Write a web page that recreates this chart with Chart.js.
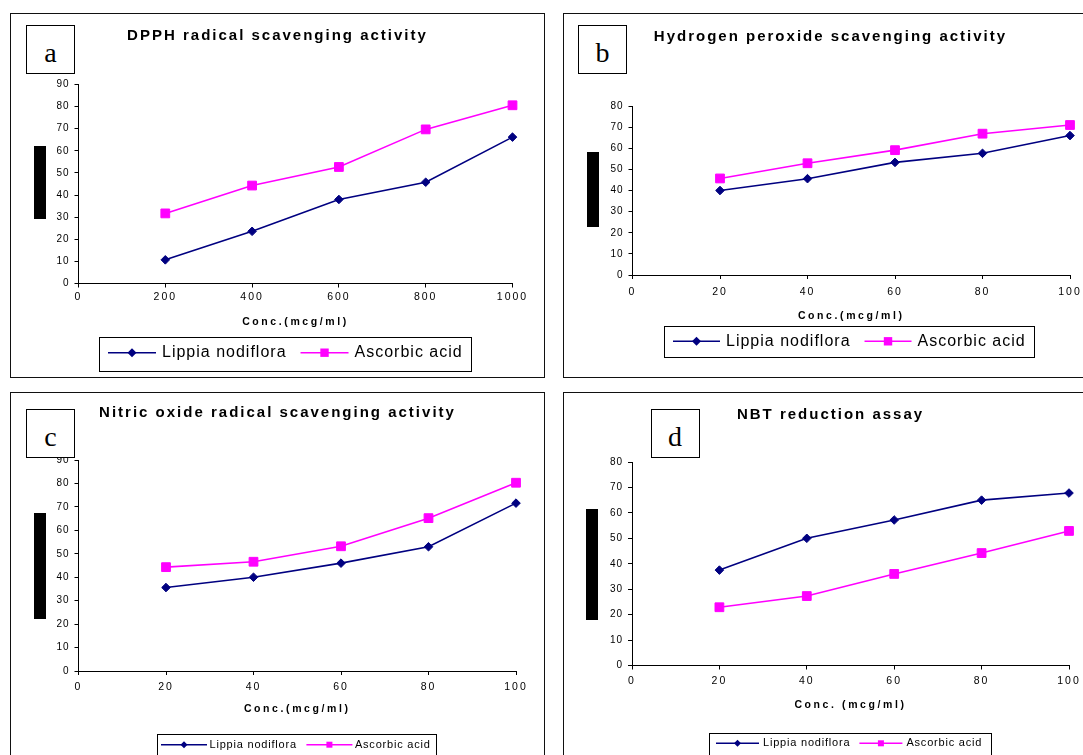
<!DOCTYPE html>
<html>
<head>
<meta charset="utf-8">
<title>Radical scavenging activity of Lippia nodiflora</title>
<script src="https://cdn.jsdelivr.net/npm/chart.js@4/dist/chart.umd.min.js"></script>
<style>
  html, body { margin: 0; padding: 0; background: #fff; }
  body { position: relative; width: 1083px; height: 755px; overflow: hidden;
         font-family: "Liberation Sans", Arial, sans-serif; color: #000; }
  .panel { position: absolute; box-sizing: border-box; border: 1px solid #111; background: #fff; }
  canvas { position: absolute; }
  .title { position: absolute; text-align: center; font-weight: bold; font-size: 15px;
           line-height: 16px; letter-spacing: 2px; white-space: nowrap; }
  .xtitle { position: absolute; text-align: center; font-weight: bold; font-size: 10.5px;
            line-height: 12px; letter-spacing: 2.6px; white-space: nowrap; }
  .tag { position: absolute; box-sizing: border-box; width: 49px; height: 49px; border: 1px solid #000;
         background: #fff; font-family: "Liberation Serif", "Times New Roman", serif; font-size: 28px;
         line-height: 28px; text-align: center; padding-top: 13px; }
  .bar { position: absolute; background: #000; }
</style>
</head>
<body>
<script>
// === Values ===
const concDPPH = [200, 400, 600, 800, 1000];
const concOther = [20, 40, 60, 80, 100];

const lippiaDPPH = [10.7, 23.6, 38, 45.8, 66.2];
const ascorbicDPPH = [31.7, 44.3, 52.7, 69.7, 80.6];
const lippiaH2O2 = [40, 45.6, 53.3, 57.6, 66];
const ascorbicH2O2 = [45.7, 52.9, 59.1, 66.9, 71];
const lippiaNO = [35.6, 40, 46, 53, 71.6];
const ascorbicNO = [44.3, 46.6, 53.2, 65.2, 80.3];
const lippiaNBT = [37.5, 50, 57.2, 65, 67.8];
const ascorbicNBT = [22.9, 27.3, 36, 44.2, 52.9];

const seriesNames = ["Lippia nodiflora", "Ascorbic acid"];
const panelTags = ["a", "b", "c", "d"];
const panelTitles = [
  "DPPH radical scavenging activity",
  "Hydrogen peroxide scavenging activity",
  "Nitric oxide radical scavenging activity",
  "NBT reduction assay"
];
const xTitles = ["Conc.(mcg/ml)", "Conc.(mcg/ml)", "Conc.(mcg/ml)", "Conc. (mcg/ml)"];
const xMax = [1000, 100, 100, 100];
const xStep = [200, 20, 20, 20];
const yMax = [90, 80, 90, 80];
const yStep = [10, 10, 10, 10];

const FONT = "'Liberation Sans', Arial, sans-serif";
const NAVY = "#000080";
const MAGENTA = "#FF00FF";

// === Page layout (page pixels) ===
const layout = [
  { box: [10, 13, 535, 365], area: [78.5, 84.5, 512.5, 283.5], titleY: 34.5, xTitleY: 321, xPad: 3.5,
    tag: [26, 25], bar: [34, 146, 12, 73],
    legend: { x: 99, y: 337, w: 372, h: 34, font: 16, spacing: 1, pad: 9, line: 48, gapText: 6,
              gapItem: 14, textY: 15.7, diamond: 4.5, square: 4.2 } },
  { box: [563, 13, 535, 365], area: [632.5, 106, 1070, 275], titleY: 35.8, xTitleY: 315, xPad: 7,
    tag: [578, 25], bar: [587, 152, 12, 75],
    legend: { x: 664, y: 326, w: 370, h: 31, font: 16, spacing: 1, pad: 9, line: 47, gapText: 6,
              gapItem: 14, textY: 15.3, diamond: 4.5, square: 4.2 } },
  { box: [10, 392, 535, 380], area: [78.5, 460, 516, 671], titleY: 411.7, xTitleY: 708, xPad: 5.7,
    tag: [26, 409], bar: [34, 513, 12, 106],
    legend: { x: 156.5, y: 733.5, w: 279, h: 24, font: 11, spacing: 0.8, pad: 4.5, line: 46, gapText: 2.5,
              gapItem: 9.5, textY: 11.2, diamond: 3.5, square: 3 } },
  { box: [563, 392, 535, 380], area: [632, 462, 1069, 665.5], titleY: 414, xTitleY: 704, xPad: 5.5,
    tag: [650.5, 409], bar: [586, 509, 12, 111],
    legend: { x: 709, y: 733.3, w: 282, h: 24, font: 11, spacing: 0.8, pad: 7, line: 43, gapText: 4,
              gapItem: 9, textY: 10, diamond: 3.5, square: 3 } }
];

const panelConc = [concDPPH, concOther, concOther, concOther];
const panelLippia = [lippiaDPPH, lippiaH2O2, lippiaNO, lippiaNBT];
const panelAscorbic = [ascorbicDPPH, ascorbicH2O2, ascorbicNO, ascorbicNBT];

// y tick labels drawn first, x tick labels after the datasets (ticks.z = 1)
const tickSpacing = {
  id: "tickSpacing",
  beforeDraw(chart) { chart.ctx.letterSpacing = "1px"; },
  afterDatasetsDraw(chart) { chart.ctx.letterSpacing = "2px"; },
  afterDraw(chart) { chart.ctx.letterSpacing = "0px"; }
};

// === Excel-style boxed legend ===
const boxLegend = {
  id: "boxLegend",
  afterDraw(chart, args, o) {
    const ctx = chart.ctx;
    const left = o.x - o.originX;
    const top = o.y - o.originY;
    ctx.save();
    ctx.lineWidth = 1;
    ctx.strokeStyle = "#000";
    ctx.strokeRect(Math.round(left) + 0.5, Math.round(top) + 0.5, o.w, o.h);
    ctx.font = o.font + "px " + FONT;
    ctx.letterSpacing = o.spacing + "px";
    ctx.textBaseline = "middle";
    const cy = top + o.textY;
    let x = left + o.pad;
    chart.data.datasets.forEach((ds) => {
      ctx.strokeStyle = ds.borderColor;
      ctx.fillStyle = ds.borderColor;
      ctx.lineWidth = 1.5;
      ctx.beginPath();
      ctx.moveTo(x, cy);
      ctx.lineTo(x + o.line, cy);
      ctx.stroke();
      const mx = x + o.line / 2;
      ctx.beginPath();
      if (ds.pointStyle === "rectRot") {
        const r = o.diamond;
        ctx.moveTo(mx - r, cy);
        ctx.lineTo(mx, cy - r);
        ctx.lineTo(mx + r, cy);
        ctx.lineTo(mx, cy + r);
        ctx.closePath();
      } else {
        const r = o.square;
        ctx.rect(mx - r, cy - r, 2 * r, 2 * r);
      }
      ctx.fill();
      x += o.line + o.gapText;
      ctx.fillStyle = "#000";
      ctx.fillText(ds.label, x, cy);
      x += ctx.measureText(ds.label).width + o.gapItem;
    });
    ctx.restore();
  }
};

function toPoints(xs, ys) {
  return xs.map((x, k) => ({ x: x, y: ys[k] }));
}

document.addEventListener("DOMContentLoaded", function () {
  Chart.defaults.font.family = FONT;
  Chart.defaults.color = "#000";

  const Y_W = 40;
  const X_H = 30;

  layout.forEach((p, i) => {
    const [bx, by, bw, bh] = p.box;
    const [aLeft, aTop, aRight, aBottom] = p.area;

    // === Panel frame ===
    const frame = document.createElement("div");
    frame.className = "panel";
    Object.assign(frame.style, { left: bx + "px", top: by + "px", width: bw + "px", height: bh + "px" });
    document.body.appendChild(frame);

    const ox = bx + 1;
    const oy = by + 1;
    const canvas = document.createElement("canvas");
    canvas.width = bw - 2;
    canvas.height = bh - 2;
    canvas.style.left = ox + "px";
    canvas.style.top = oy + "px";
    document.body.appendChild(canvas);

    // === Titles, letter tag and masking bar ===
    const title = document.createElement("div");
    title.className = "title";
    title.textContent = panelTitles[i];
    Object.assign(title.style, { left: bx + "px", width: bw + "px", top: (p.titleY - 8) + "px" });
    document.body.appendChild(title);

    const xTitle = document.createElement("div");
    xTitle.className = "xtitle";
    xTitle.textContent = xTitles[i];
    Object.assign(xTitle.style, { left: aLeft + "px", width: (aRight - aLeft) + "px", top: (p.xTitleY - 6) + "px" });
    document.body.appendChild(xTitle);

    const tag = document.createElement("div");
    tag.className = "tag";
    tag.textContent = panelTags[i];
    Object.assign(tag.style, { left: p.tag[0] + "px", top: p.tag[1] + "px" });
    document.body.appendChild(tag);

    const bar = document.createElement("div");
    bar.className = "bar";
    Object.assign(bar.style, { left: p.bar[0] + "px", top: p.bar[1] + "px", width: p.bar[2] + "px", height: p.bar[3] + "px" });
    document.body.appendChild(bar);

    const axisLine = { drawOnChartArea: false, drawTicks: true, tickLength: 4, color: "#000", lineWidth: 1 };

    new Chart(canvas.getContext("2d"), {
      type: "line",
      data: {
        datasets: [
          {
            label: seriesNames[0],
            data: toPoints(panelConc[i], panelLippia[i]),
            borderColor: NAVY,
            backgroundColor: NAVY,
            borderWidth: 1.6,
            pointStyle: "rectRot",
            pointRadius: 4.3,
            pointBorderWidth: 1,
            tension: 0,
            clip: false
          },
          {
            label: seriesNames[1],
            data: toPoints(panelConc[i], panelAscorbic[i]),
            borderColor: MAGENTA,
            backgroundColor: MAGENTA,
            borderWidth: 1.6,
            pointStyle: "rect",
            pointRadius: 6.2,
            pointBorderWidth: 1,
            tension: 0,
            clip: false
          }
        ]
      },
      options: {
        responsive: false,
        animation: false,
        events: [],
        layout: {
          padding: {
            left: aLeft - ox - Y_W,
            top: aTop - oy,
            right: ox + canvas.width - aRight,
            bottom: oy + canvas.height - aBottom - X_H
          }
        },
        plugins: {
          legend: { display: false },
          tooltip: { enabled: false },
          boxLegend: Object.assign({ originX: ox, originY: oy }, p.legend)
        },
        scales: {
          x: {
            type: "linear",
            min: 0,
            max: xMax[i],
            ticks: { stepSize: xStep[i], padding: p.xPad, font: { size: 10.5 }, color: "#000",
                     maxRotation: 0, autoSkip: false, z: 1, callback: (v) => String(v) },
            grid: axisLine,
            border: { display: true, color: "#000", width: 1 },
            afterFit: (s) => { s.height = X_H; }
          },
          y: {
            min: 0,
            max: yMax[i],
            ticks: { stepSize: yStep[i], padding: 5, font: { size: 10 }, color: "#000",
                     callback: (v) => String(v) },
            grid: axisLine,
            border: { display: true, color: "#000", width: 1 },
            afterFit: (s) => { s.width = Y_W; }
          }
        }
      },
      plugins: [tickSpacing, boxLegend]
    });
  });
});
</script>
</body>
</html>
